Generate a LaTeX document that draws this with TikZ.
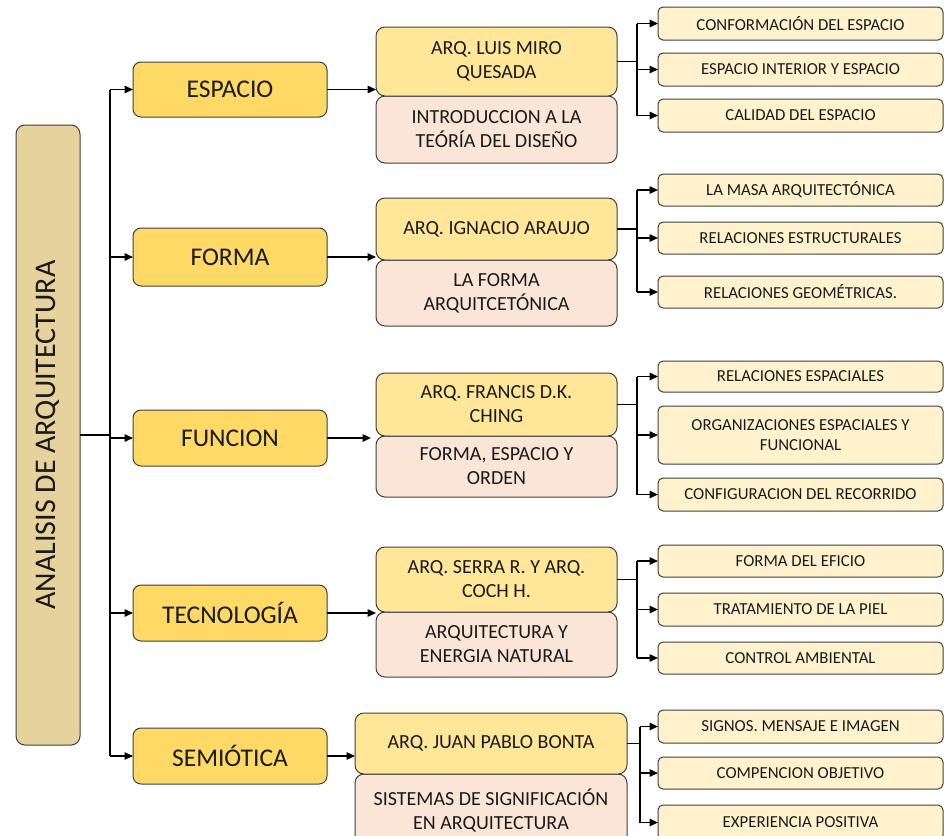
\documentclass[tikz,border=0pt]{standalone}
\usepackage{fontspec}
\setmainfont{Carlito}
\usetikzlibrary{arrows.meta}

\definecolor{edge}{HTML}{3F3F3F}
\definecolor{ink}{HTML}{1A1A1A}
\definecolor{papyrus}{HTML}{E6D29C}
\definecolor{catfill}{HTML}{FFD966}
\definecolor{authfill}{HTML}{FFE699}
\definecolor{bookfill}{HTML}{FBE5D6}
\definecolor{leaffill}{HTML}{FFF2CC}

\tikzset{
  box/.style={draw=edge, line width=1pt, inner sep=0pt, outer sep=0pt, align=center, text=ink},
  rootbox/.style={box, fill=papyrus, rounded corners=9pt},
  catbox/.style={box, fill=catfill, rounded corners=8pt, font=\fontsize{25.5}{30}\selectfont},
  authbox/.style={box, fill=authfill, rounded corners=9pt, font=\fontsize{20}{24}\selectfont},
  bookbox/.style={box, fill=bookfill, rounded corners=9pt, font=\fontsize{20}{24}\selectfont},
  leafbox/.style={box, fill=leaffill, rounded corners=5pt, font=\fontsize{16.8}{20}\selectfont},
  link/.style={line width=1.5pt, draw=black},
  feed/.style={link, -{Triangle[length=8.5pt,width=7.5pt]}},
}

% \placebox{name}{style}{left}{top}{right}{bottom}{text}
\newcommand{\placebox}[7]{%
  \node[#2, minimum width={(#5-#3)*1pt}, minimum height={(#6-#4)*1pt}]
    (#1) at ({(#3+#5)/2},{(#4+#6)/2}) {#7};}

\begin{document}
\begin{tikzpicture}[x=1pt,y=-1pt]
\useasboundingbox (0,0) rectangle (944,835);

% root
\placebox{root}{rootbox}{16}{125}{80}{745}{}
\node[rotate=90, text=ink, font=\fontsize{30}{36}\selectfont] (roottext) at (root.center) {ANALISIS DE ARQUITECTURA};

% categories
\placebox{espacio}{catbox}{133}{62}{327}{117}{ESPACIO}
\placebox{forma}{catbox}{133}{228}{327}{286}{FORMA}
\placebox{funcion}{catbox}{133}{410}{327}{466}{FUNCION}
\placebox{tecno}{catbox}{133}{585}{327}{641}{TECNOLOGÍA}
\placebox{semio}{catbox}{133}{728}{327}{784}{SEMIÓTICA}

% trunk
\coordinate (trunk) at (110,435);
\draw[link] (root.east) -- (trunk);
\draw[link] (trunk |- espacio.west) -- (trunk |- semio.west);
\foreach \c in {espacio,forma,funcion,tecno,semio}
  \draw[feed] (trunk |- \c.west) -- (\c.west);

% authors and books
\placebox{bespacio}{bookbox}{376}{96}{617}{163}{INTRODUCCION A LA\\TEÓRÍA DEL DISEÑO}
\placebox{aespacio}{authbox}{376}{27}{617}{96}{ARQ. LUIS MIRO\\QUESADA}
\placebox{bforma}{bookbox}{376}{260}{617}{326}{LA FORMA\\ARQUITCETÓNICA}
\placebox{aforma}{authbox}{376}{198}{617}{260}{ARQ. IGNACIO ARAUJO}
\placebox{bfuncion}{bookbox}{376}{436}{617}{497}{FORMA, ESPACIO Y\\ORDEN}
\placebox{afuncion}{authbox}{376}{373}{617}{436}{ARQ. FRANCIS D.K.\\CHING}
\placebox{btecno}{bookbox}{376}{612}{617}{677}{ARQUITECTURA Y\\ENERGIA NATURAL}
\placebox{atecno}{authbox}{376}{547}{617}{612}{ARQ. SERRA R. Y ARQ.\\COCH H.}
\placebox{bsemio}{bookbox}{355}{774}{627}{846}{SISTEMAS DE SIGNIFICACIÓN\\EN ARQUITECTURA}
\placebox{asemio}{authbox}{355}{713}{627}{774}{ARQ. JUAN PABLO BONTA}

\draw[feed] (espacio.east) -- (espacio.east -| aespacio.west);
\draw[feed] (forma.east) -- (forma.east -| aforma.west);
\draw[feed, shorten >=5pt] (funcion.east) -- (funcion.east -| afuncion.west);
\draw[feed] (tecno.east) -- (tecno.east -| atecno.west);
\draw[feed] (semio.east) -- (semio.east -| asemio.west);

% leaves
\placebox{espacioA}{leafbox}{658}{7}{943}{40}{CONFORMACIÓN DEL ESPACIO}
\placebox{espacioB}{leafbox}{658}{53}{943}{86}{ESPACIO INTERIOR Y ESPACIO}
\placebox{espacioC}{leafbox}{658}{99}{943}{132}{CALIDAD DEL ESPACIO}
\placebox{formaA}{leafbox}{658}{174}{943}{206}{LA MASA ARQUITECTÓNICA}
\placebox{formaB}{leafbox}{658}{222}{943}{254}{RELACIONES ESTRUCTURALES}
\placebox{formaC}{leafbox}{658}{276}{943}{308}{RELACIONES GEOMÉTRICAS.}
\placebox{funcionA}{leafbox}{658}{361}{943}{392}{RELACIONES ESPACIALES}
\placebox{funcionB}{leafbox}{658}{406}{943}{464}{ORGANIZACIONES ESPACIALES Y\\FUNCIONAL}
\placebox{funcionC}{leafbox}{658}{478}{943}{511}{CONFIGURACION DEL RECORRIDO}
\placebox{tecnoA}{leafbox}{658}{545}{943}{577}{FORMA DEL EFICIO}
\placebox{tecnoB}{leafbox}{658}{593}{943}{626}{TRATAMIENTO DE LA PIEL}
\placebox{tecnoC}{leafbox}{658}{642}{943}{674}{CONTROL AMBIENTAL}
\placebox{semioA}{leafbox}{658}{710}{943}{743}{SIGNOS. MENSAJE E IMAGEN}
\placebox{semioB}{leafbox}{658}{757}{943}{789}{COMPENCION OBJETIVO}
\placebox{semioC}{leafbox}{658}{805}{943}{840}{EXPERIENCIA POSITIVA}

% brackets from each author to its leaves
\coordinate (jespacio) at (637,0);
\coordinate (jforma) at (637,0);
\coordinate (jfuncion) at (637,0);
\coordinate (jtecno) at (637,0);
\coordinate (jsemio) at (640,0);
\foreach \c in {espacio,forma,funcion,tecno,semio}{
  \draw[link] (a\c.east) -- (a\c.east -| j\c);
  \draw[link] (j\c |- \c A.west) -- (j\c |- \c C.west);
  \foreach \k in {A,B,C}
    \draw[feed] (j\c |- \c\k.west) -- (\c\k.west);
}
\end{tikzpicture}
\end{document}
